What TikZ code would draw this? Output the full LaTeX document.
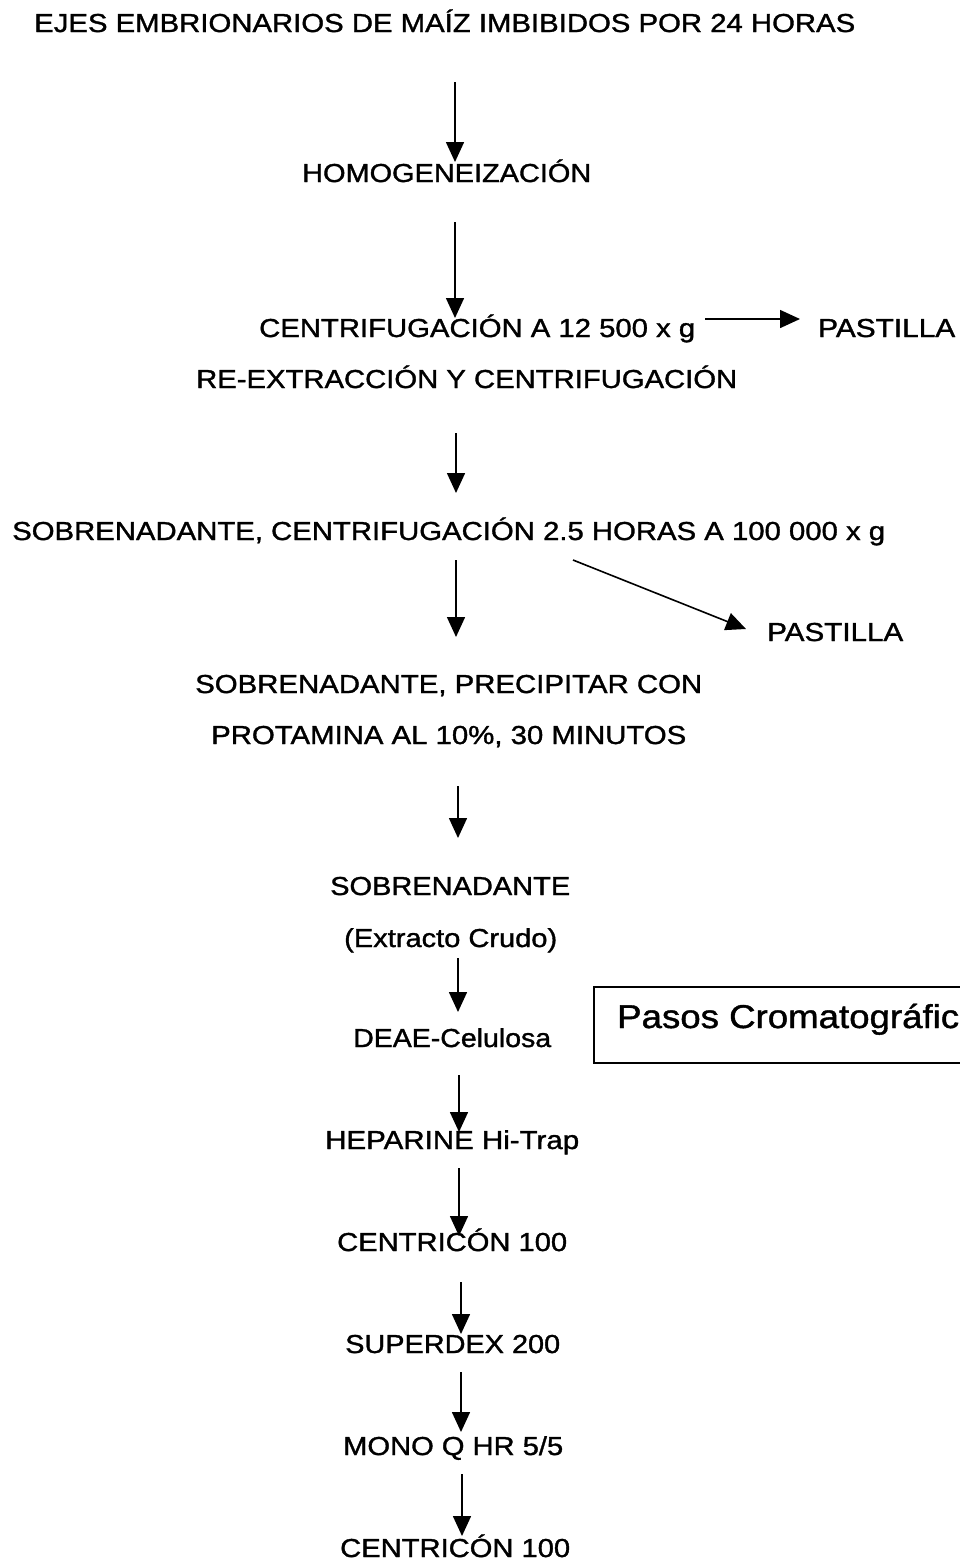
\documentclass[tikz,border=0pt]{standalone}
\usepackage{fontspec}
\setmainfont{Liberation Sans}[FakeBold=1.2]
\usepackage{graphicx}
\usetikzlibrary{arrows.meta}
\newcommand\fitw[2]{\resizebox{#1}{\height}{#2}}
\begin{document}
\begin{tikzpicture}[x=1pt,y=-1pt,
  txt/.style={inner sep=0pt, anchor=base west, font=\fontsize{26}{30}\selectfont},
  bigtxt/.style={inner sep=0pt, anchor=base west, font=\fontsize{33}{38}\selectfont},
  arr/.style={line width=1.6pt, -{Triangle[length=20pt,width=18pt]}},
  boxline/.style={line width=1.4pt}]
\useasboundingbox (0,0) rectangle (959,1561);
\fill[white] (0,0) rectangle (959,1561);
% texts
\node[txt] (t1) at (34,32) {\fitw{821pt}{EJES EMBRIONARIOS DE MAÍZ IMBIBIDOS POR 24 HORAS}};
\node[txt] (t2) at (302,182) {\fitw{289pt}{HOMOGENEIZACIÓN}};
\node[txt] (t3) at (259,337) {\fitw{436pt}{CENTRIFUGACIÓN A 12 500 x g}};
\node[txt] (p1) at (818,337) {\fitw{137pt}{PASTILLA}};
\node[txt] (t4) at (196,388) {\fitw{541pt}{RE-EXTRACCIÓN Y CENTRIFUGACIÓN}};
\node[txt] (t5) at (12,540) {\fitw{873pt}{SOBRENADANTE, CENTRIFUGACIÓN 2.5 HORAS A 100 000 x g}};
\node[txt] (p2) at (767,641) {\fitw{136pt}{PASTILLA}};
\node[txt] (t6) at (195,693) {\fitw{507pt}{SOBRENADANTE, PRECIPITAR CON}};
\node[txt] (t7) at (211,744) {\fitw{475pt}{PROTAMINA AL 10\%, 30 MINUTOS}};
\node[txt] (t8) at (330,895) {\fitw{240pt}{SOBRENADANTE}};
\node[txt] (t9) at (344,947) {\fitw{213pt}{(Extracto Crudo)}};
\node[txt] (t10) at (353,1047) {\fitw{198pt}{DEAE-Celulosa}};
\node[bigtxt] (box) at (617,1028) {\fitw{342pt}{Pasos Cromatográfic}};
\node[txt] (t11) at (325,1149) {\fitw{254pt}{HEPARINE Hi-Trap}};
\node[txt] (t12) at (337,1251) {\fitw{230pt}{CENTRICÓN 100}};
\node[txt] (t13) at (345,1353) {\fitw{215pt}{SUPERDEX 200}};
\node[txt] (t14) at (343,1455) {\fitw{220pt}{MONO Q HR 5/5}};
\node[txt] (t15) at (340,1557) {\fitw{230pt}{CENTRICÓN 100}};
% box frame
\draw[boxline] (1000,987) -- (594,987) -- (594,1063) -- (1000,1063);
% arrow ends
\coordinate (a1s) at (455,82);   \coordinate (a1e) at (455,162);
\coordinate (a2s) at (455,222);  \coordinate (a2e) at (455,318);
\coordinate (a3s) at (456,433);  \coordinate (a3e) at (456,493);
\coordinate (a4s) at (456,560);  \coordinate (a4e) at (456,637);
\coordinate (h1s) at (705,319);  \coordinate (h1e) at (800,319);
\coordinate (d1s) at (573,560);  \coordinate (d1e) at (746,629);
\coordinate (a5s) at (458,786);  \coordinate (a5e) at (458,838);
\coordinate (a6s) at (458,958);  \coordinate (a6e) at (458,1012);
\coordinate (a7s) at (459,1075); \coordinate (a7e) at (459,1132);
\coordinate (a8s) at (459,1168); \coordinate (a8e) at (459,1236);
\coordinate (a9s) at (461,1282); \coordinate (a9e) at (461,1334);
\coordinate (a10s) at (461,1372); \coordinate (a10e) at (461,1432);
\coordinate (a11s) at (462,1474); \coordinate (a11e) at (462,1536);
\draw[arr] (a1s) -- (a1e);
\draw[arr] (a2s) -- (a2e);
\draw[arr] (a3s) -- (a3e);
\draw[arr] (a4s) -- (a4e);
\draw[arr] (h1s) -- (h1e);
\draw[arr] (d1s) -- (d1e);
\draw[arr] (a5s) -- (a5e);
\draw[arr] (a6s) -- (a6e);
\draw[arr] (a7s) -- (a7e);
\draw[arr] (a8s) -- (a8e);
\draw[arr] (a9s) -- (a9e);
\draw[arr] (a10s) -- (a10e);
\draw[arr] (a11s) -- (a11e);
\end{tikzpicture}
\end{document}
